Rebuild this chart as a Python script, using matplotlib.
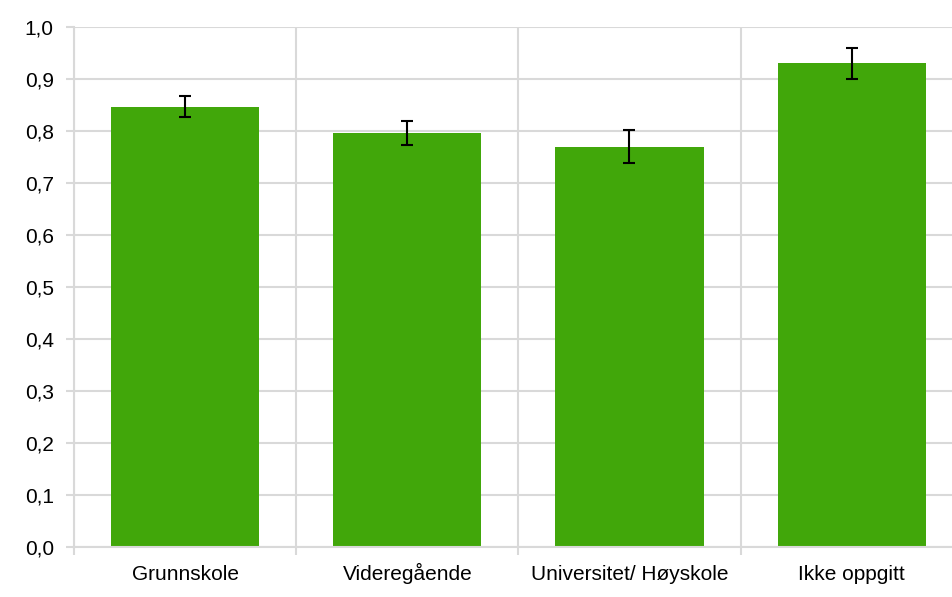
import numpy as np
import matplotlib.pyplot as plt
from matplotlib.ticker import FuncFormatter

plt.rcParams['font.family'] = ['Liberation Sans', 'DejaVu Sans']

categories = ['Grunnskole', 'Videregående', 'Universitet/ Høyskole', 'Ikke oppgitt']
values = [0.847, 0.796, 0.770, 0.930]
errors = [0.021, 0.023, 0.031, 0.030]

fig = plt.figure(figsize=(9.53, 5.97), dpi=100)
ax = fig.add_axes([74 / 953, 1 - 547 / 597, 879 / 953, 520 / 597])

x = np.arange(len(categories))
ax.bar(x, values, width=0.667, color='#41A70A', zorder=2)
ax.errorbar(x, values, yerr=errors, fmt='none', ecolor='black',
            elinewidth=1.5, capsize=4.3, capthick=1.5, zorder=3)

ax.set_yticks(np.arange(0, 1.01, 0.1))
ax.yaxis.set_major_formatter(FuncFormatter(lambda v, p: f'{v:.1f}'.replace('.', ',')))

# category labels in the middle, ticks on the boundaries
ax.set_xticks(x)
ax.set_xticklabels(categories, va='baseline')
ax.set_xticks(np.arange(-0.5, 4, 1), minor=True)
ax.set_ylim(0, 1.0)
ax.set_xlim(-0.5, 3.456)
ax.tick_params(axis='x', which='major', length=0, pad=24, labelsize=15)
ax.tick_params(axis='x', which='minor', length=6, color='#D9D9D9', width=1.5)
ax.tick_params(axis='y', length=6, color='#D9D9D9', width=1.5, pad=8.5, labelsize=15)

ax.grid(axis='y', color='#D9D9D9', linewidth=1.5, zorder=0)
ax.grid(axis='x', which='minor', color='#D9D9D9', linewidth=1.5, zorder=0)
ax.set_axisbelow(True)

for s in ['top', 'right']:
    ax.spines[s].set_visible(False)
for s in ['left', 'bottom']:
    ax.spines[s].set_color('#D9D9D9')
    ax.spines[s].set_linewidth(1.5)

fig.savefig('out.png', dpi=100)
